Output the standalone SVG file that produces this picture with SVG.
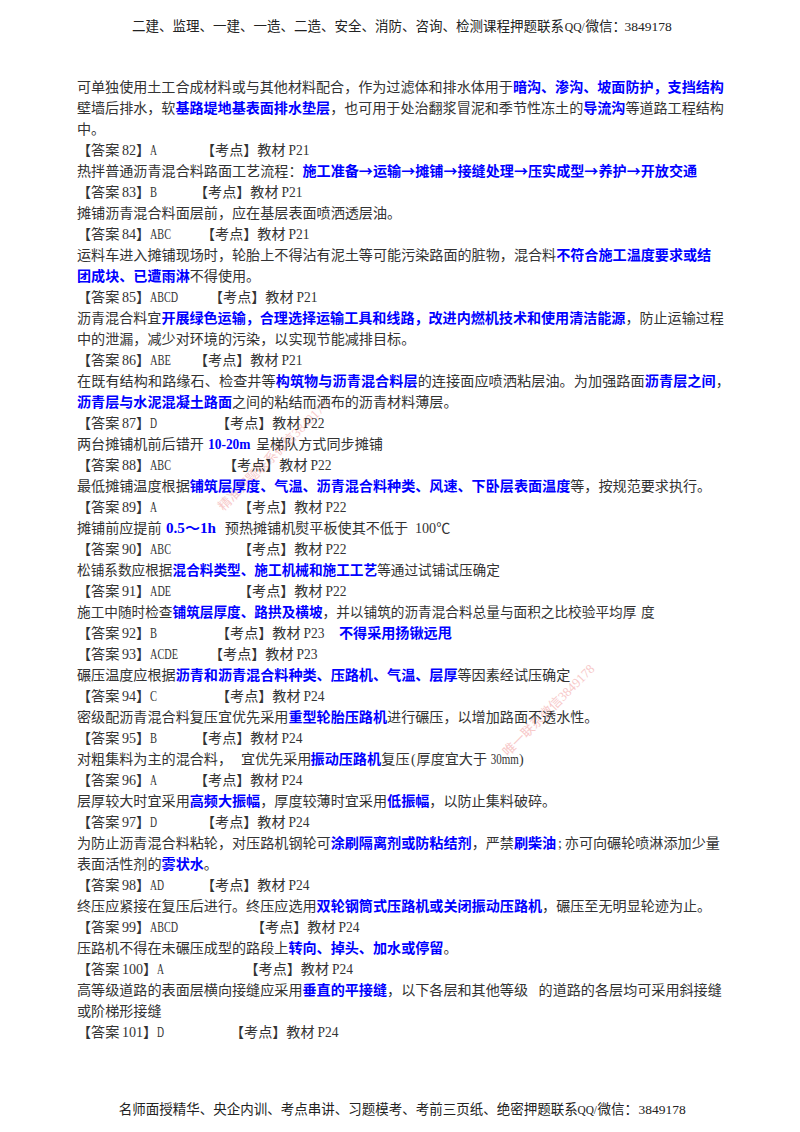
<svg xmlns="http://www.w3.org/2000/svg" width="800" height="1132" viewBox="0 0 800 1132">
<style>
text{font-family:"Noto Sans CJK SC",sans-serif;font-size:14.1px;fill:#333}
.h{font-size:13.5px;fill:#222}
.n{font-size:13.65px}
.f{font-size:14.07px}
.j{letter-spacing:.1px}
.b{fill:#00f;font-weight:700}
.l,tspan.l{font-family:"Liberation Serif","Noto Sans CJK SC",serif}
.w{font-size:13px;fill:#f7c9c9}
</style>
<rect width="800" height="1132" fill="#fff"/>
<text class="w" transform="translate(223.5 511.5) rotate(-45)">精准押题联系微信<tspan class="l">3849178</tspan></text>
<text class="w" transform="translate(508 757) rotate(-45)">唯一联系微信<tspan class="l">3849178</tspan></text>
<text class="h" x="132" y="30.5">二建、监理、一建、一造、二造、安全、消防、咨询、检测课程押题联系</text>
<text class="h l" x="564.8" y="30.5" textLength="20" lengthAdjust="spacingAndGlyphs">QQ/</text>
<text class="h" x="585.5" y="30.5">微信：</text>
<text class="h l" x="624.5" y="30.5">3849178</text>
<text class="f" x="77" y="92">可单独使用土工合成材料或与其他材料配合，作为过滤体和排水体用于<tspan class="b">暗沟、渗沟、坡面防护，支挡结构</tspan></text>
<text class="f" x="77" y="113">壁墙后排水，软<tspan class="b">基路堤地基表面排水垫层</tspan>，也可用于处治翻浆冒泥和季节性冻土的<tspan class="b">导流沟</tspan>等道路工程结构</text>
<text x="77" y="134">中。</text>
<text y="155"><tspan x="77">【答案</tspan><tspan class="l" x="122">82</tspan><tspan x="136">】</tspan><tspan x="201">【考点】教材</tspan></text><text class="l" x="150" y="155" textLength="7" lengthAdjust="spacingAndGlyphs">A</text><text class="l" x="288.5" y="155" textLength="21" lengthAdjust="spacingAndGlyphs">P21</text>
<text x="77" y="176">热拌普通沥青混合料路面工艺流程：<tspan class="b">施工准备→运输→摊铺→接缝处理→压实成型→养护→开放交通</tspan></text>
<text y="197"><tspan x="77">【答案</tspan><tspan class="l" x="122">83</tspan><tspan x="136">】</tspan><tspan x="194">【考点】教材</tspan></text><text class="l" x="150" y="197" textLength="7" lengthAdjust="spacingAndGlyphs">B</text><text class="l" x="281.5" y="197" textLength="21" lengthAdjust="spacingAndGlyphs">P21</text>
<text x="77" y="218">摊铺沥青混合料面层前，应在基层表面喷洒透层油。</text>
<text y="239"><tspan x="77">【答案</tspan><tspan class="l" x="122">84</tspan><tspan x="136">】</tspan><tspan x="201">【考点】教材</tspan></text><text class="l" x="150" y="239" textLength="21" lengthAdjust="spacingAndGlyphs">ABC</text><text class="l" x="288.5" y="239" textLength="21" lengthAdjust="spacingAndGlyphs">P21</text>
<text x="77" y="260">运料车进入摊铺现场时，轮胎上不得沾有泥土等可能污染路面的脏物，混合料<tspan class="b">不符合施工温度要求或结</tspan></text>
<text x="77" y="281"><tspan class="b">团成块、已遭雨淋</tspan>不得使用。</text>
<text y="302"><tspan x="77">【答案</tspan><tspan class="l" x="122">85</tspan><tspan x="136">】</tspan><tspan x="209">【考点】教材</tspan></text><text class="l" x="150" y="302" textLength="28" lengthAdjust="spacingAndGlyphs">ABCD</text><text class="l" x="296.5" y="302" textLength="21" lengthAdjust="spacingAndGlyphs">P21</text>
<text class="f" x="77" y="323">沥青混合料宜<tspan class="b">开展绿色运输，合理选择运输工具和线路，改进内燃机技术和使用清洁能源</tspan>，防止运输过程</text>
<text x="77" y="344">中的泄漏，减少对环境的污染，以实现节能减排目标。</text>
<text y="365"><tspan x="77">【答案</tspan><tspan class="l" x="122">86</tspan><tspan x="136">】</tspan><tspan x="194">【考点】教材</tspan></text><text class="l" x="150" y="365" textLength="21" lengthAdjust="spacingAndGlyphs">ABE</text><text class="l" x="281.5" y="365" textLength="21" lengthAdjust="spacingAndGlyphs">P21</text>
<text class="j" x="77" y="386">在既有结构和路缘石、检查井等<tspan class="b">构筑物与沥青混合料层</tspan>的连接面应喷洒粘层油。为加强路面<tspan class="b">沥青层之间</tspan>，</text>
<text x="77" y="407"><tspan class="b">沥青层与水泥混凝土路面</tspan>之间的粘结而洒布的沥青材料薄层。</text>
<text y="428"><tspan x="77">【答案</tspan><tspan class="l" x="122">87</tspan><tspan x="136">】</tspan><tspan x="216">【考点】教材</tspan></text><text class="l" x="150" y="428" textLength="7" lengthAdjust="spacingAndGlyphs">D</text><text class="l" x="303.5" y="428" textLength="21" lengthAdjust="spacingAndGlyphs">P22</text>
<text y="449"><tspan x="77">两台摊铺机前后错开</tspan><tspan x="256">呈梯队方式同步摊铺</tspan></text><text class="l b" x="208" y="449" textLength="42.5" lengthAdjust="spacingAndGlyphs">10-20m</text>
<text y="470"><tspan x="77">【答案</tspan><tspan class="l" x="122">88</tspan><tspan x="136">】</tspan><tspan x="223">【考点】教材</tspan></text><text class="l" x="150" y="470" textLength="21" lengthAdjust="spacingAndGlyphs">ABC</text><text class="l" x="310.5" y="470" textLength="21" lengthAdjust="spacingAndGlyphs">P22</text>
<text x="77" y="491">最低摊铺温度根据<tspan class="b">铺筑层厚度、气温、沥青混合料种类、风速、下卧层表面温度</tspan>等，按规范要求执行。</text>
<text y="512"><tspan x="77">【答案</tspan><tspan class="l" x="122">89</tspan><tspan x="136">】</tspan><tspan x="238">【考点】教材</tspan></text><text class="l" x="150" y="512" textLength="7" lengthAdjust="spacingAndGlyphs">A</text><text class="l" x="325.5" y="512" textLength="21" lengthAdjust="spacingAndGlyphs">P22</text>
<text y="533"><tspan x="77">摊铺前应提前</tspan><tspan x="224.8">预热摊铺机熨平板使其不低于</tspan><tspan class="l" x="415">100℃</tspan></text><text class="l b" x="166" y="533" textLength="50" lengthAdjust="spacingAndGlyphs">0.5～1h</text>
<text y="554"><tspan x="77">【答案</tspan><tspan class="l" x="122">90</tspan><tspan x="136">】</tspan><tspan x="238">【考点】教材</tspan></text><text class="l" x="150" y="554" textLength="21" lengthAdjust="spacingAndGlyphs">ABC</text><text class="l" x="325.5" y="554" textLength="21" lengthAdjust="spacingAndGlyphs">P22</text>
<text class="n" x="77" y="575">松铺系数应根据<tspan class="b">混合料类型、施工机械和施工工艺</tspan>等通过试铺试压确定</text>
<text y="596"><tspan x="77">【答案</tspan><tspan class="l" x="122">91</tspan><tspan x="136">】</tspan><tspan x="238">【考点】教材</tspan></text><text class="l" x="150" y="596" textLength="21" lengthAdjust="spacingAndGlyphs">ADE</text><text class="l" x="325.5" y="596" textLength="21" lengthAdjust="spacingAndGlyphs">P22</text>
<text class="n" y="617"><tspan x="77">施工中随时检查</tspan><tspan class="b">铺筑层厚度、路拱及横坡</tspan>，并以铺筑的沥青混合料总量与面积之比校验平均厚<tspan x="641">度</tspan></text>
<text y="638"><tspan x="77">【答案</tspan><tspan class="l" x="122">92</tspan><tspan x="136">】</tspan><tspan x="216">【考点】教材</tspan><tspan class="b" x="339">不得采用扬锹远甩</tspan></text><text class="l" x="150" y="638" textLength="7" lengthAdjust="spacingAndGlyphs">B</text><text class="l" x="303.5" y="638" textLength="21" lengthAdjust="spacingAndGlyphs">P23</text>
<text y="659"><tspan x="77">【答案</tspan><tspan class="l" x="122">93</tspan><tspan x="136">】</tspan><tspan x="209">【考点】教材</tspan></text><text class="l" x="150" y="659" textLength="28" lengthAdjust="spacingAndGlyphs">ACDE</text><text class="l" x="296.5" y="659" textLength="21" lengthAdjust="spacingAndGlyphs">P23</text>
<text x="77" y="680">碾压温度应根据<tspan class="b">沥青和沥青混合料种类、压路机、气温、层厚</tspan>等因素经试压确定</text>
<text y="701"><tspan x="77">【答案</tspan><tspan class="l" x="122">94</tspan><tspan x="136">】</tspan><tspan x="216">【考点】教材</tspan></text><text class="l" x="150" y="701" textLength="7" lengthAdjust="spacingAndGlyphs">C</text><text class="l" x="303.5" y="701" textLength="21" lengthAdjust="spacingAndGlyphs">P24</text>
<text x="77" y="722">密级配沥青混合料复压宜优先采用<tspan class="b">重型轮胎压路机</tspan>进行碾压，以增加路面不透水性。</text>
<text y="743"><tspan x="77">【答案</tspan><tspan class="l" x="122">95</tspan><tspan x="136">】</tspan><tspan x="194">【考点】教材</tspan></text><text class="l" x="150" y="743" textLength="7" lengthAdjust="spacingAndGlyphs">B</text><text class="l" x="281.5" y="743" textLength="21" lengthAdjust="spacingAndGlyphs">P24</text>
<text y="764"><tspan x="77">对粗集料为主的混合料，</tspan><tspan x="240.9">宜优先采用</tspan><tspan class="b" x="310.6">振动压路机</tspan><tspan x="381.3">复压</tspan><tspan class="l" x="411">(</tspan><tspan x="416.6">厚度宜大于</tspan><tspan class="l" x="519">)</tspan></text><text class="l" x="490.7" y="764" textLength="28" lengthAdjust="spacingAndGlyphs">30mm</text>
<text y="785"><tspan x="77">【答案</tspan><tspan class="l" x="122">96</tspan><tspan x="136">】</tspan><tspan x="194">【考点】教材</tspan></text><text class="l" x="150" y="785" textLength="7" lengthAdjust="spacingAndGlyphs">A</text><text class="l" x="281.5" y="785" textLength="21" lengthAdjust="spacingAndGlyphs">P24</text>
<text x="77" y="806">层厚较大时宜采用<tspan class="b">高频大振幅</tspan>，厚度较薄时宜采用<tspan class="b">低振幅</tspan>，以防止集料破碎。</text>
<text y="827"><tspan x="77">【答案</tspan><tspan class="l" x="122">97</tspan><tspan x="136">】</tspan><tspan x="201">【考点】教材</tspan></text><text class="l" x="150" y="827" textLength="7" lengthAdjust="spacingAndGlyphs">D</text><text class="l" x="288.5" y="827" textLength="21" lengthAdjust="spacingAndGlyphs">P24</text>
<text y="848"><tspan x="77">为防止沥青混合料粘轮，对压路机钢轮可</tspan><tspan class="b">涂刷隔离剂或防粘结剂</tspan>，严禁<tspan class="b">刷柴油</tspan><tspan class="l" x="558">;</tspan><tspan x="564.8">亦可向碾轮喷淋添加少量</tspan></text>
<text x="77" y="869">表面活性剂的<tspan class="b">雾状水</tspan>。</text>
<text y="890"><tspan x="77">【答案</tspan><tspan class="l" x="122">98</tspan><tspan x="136">】</tspan><tspan x="201">【考点】教材</tspan></text><text class="l" x="150" y="890" textLength="14" lengthAdjust="spacingAndGlyphs">AD</text><text class="l" x="288.5" y="890" textLength="21" lengthAdjust="spacingAndGlyphs">P24</text>
<text x="77" y="911">终压应紧接在复压后进行。终压应选用<tspan class="b">双轮钢筒式压路机或关闭振动压路机</tspan>，碾压至无明显轮迹为止。</text>
<text y="932"><tspan x="77">【答案</tspan><tspan class="l" x="122">99</tspan><tspan x="136">】</tspan><tspan x="251">【考点】教材</tspan></text><text class="l" x="150" y="932" textLength="28" lengthAdjust="spacingAndGlyphs">ABCD</text><text class="l" x="338.5" y="932" textLength="21" lengthAdjust="spacingAndGlyphs">P24</text>
<text x="77" y="953">压路机不得在未碾压成型的路段上<tspan class="b">转向、掉头、加水或停留</tspan>。</text>
<text y="974"><tspan x="77">【答案</tspan><tspan class="l" x="122">100</tspan><tspan x="143">】</tspan><tspan x="244.5">【考点】教材</tspan></text><text class="l" x="157" y="974" textLength="7" lengthAdjust="spacingAndGlyphs">A</text><text class="l" x="332" y="974" textLength="21" lengthAdjust="spacingAndGlyphs">P24</text>
<text y="995"><tspan x="77">高等级道路的表面层横向接缝应采用</tspan><tspan class="b">垂直的平接缝</tspan>，以下各层和其他等级<tspan x="538.6">的道路的各层均可采用斜接缝</tspan></text>
<text x="77" y="1016">或阶梯形接缝</text>
<text y="1037"><tspan x="77">【答案</tspan><tspan class="l" x="122">101</tspan><tspan x="143">】</tspan><tspan x="230">【考点】教材</tspan></text><text class="l" x="157" y="1037" textLength="7" lengthAdjust="spacingAndGlyphs">D</text><text class="l" x="317.5" y="1037" textLength="21" lengthAdjust="spacingAndGlyphs">P24</text>
<text class="h" x="118.8" y="1114">名师面授精华、央企内训、考点串讲、习题模考、考前三页纸、绝密押题联系</text>
<text class="h l" x="577.5" y="1114" textLength="19.5" lengthAdjust="spacingAndGlyphs">QQ/</text>
<text class="h" x="597.5" y="1114">微信：</text>
<text class="h l" x="638.5" y="1114">3849178</text>
</svg>
